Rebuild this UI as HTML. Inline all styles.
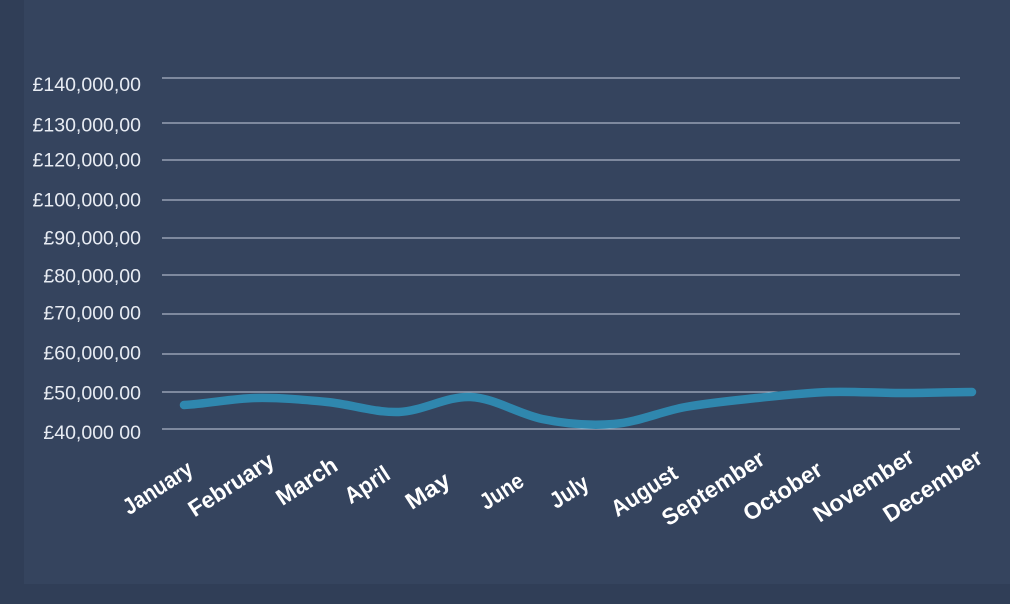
<!DOCTYPE html>
<html>
<head>
<meta charset="utf-8">
<style>
  html, body { margin: 0; padding: 0; }
  body { width: 1010px; height: 604px; background: #303e57; overflow: hidden; position: relative; }
  .panel { position: absolute; left: 24px; top: 0; width: 986px; height: 584px; background: #35445e; }
  svg { position: absolute; left: 0; top: 0; }
</style>
</head>
<body>
<div class="panel"></div>
<svg width="1010" height="604" viewBox="0 0 1010 604" xmlns="http://www.w3.org/2000/svg">
  <g stroke="#c6cedd" stroke-width="1" shape-rendering="crispEdges">
    <line x1="162" y1="78" x2="960" y2="78"/>
    <line x1="162" y1="123" x2="960" y2="123"/>
    <line x1="162" y1="160" x2="960" y2="160"/>
    <line x1="162" y1="200" x2="960" y2="200"/>
    <line x1="162" y1="238" x2="960" y2="238"/>
    <line x1="162" y1="275" x2="960" y2="275"/>
    <line x1="162" y1="314" x2="960" y2="314"/>
    <line x1="162" y1="354" x2="960" y2="354"/>
    <line x1="162" y1="392" x2="960" y2="392"/>
    <line x1="162" y1="429" x2="960" y2="429"/>
  </g>
  <g font-family="'Liberation Sans', Arial, sans-serif" font-size="19.5" fill="#e8ecf3" text-anchor="end">
    <text x="141" y="91">£140,000,00</text>
    <text x="141" y="131.5">£130,000,00</text>
    <text x="141" y="166.5">£120,000,00</text>
    <text x="141" y="206.5">£100,000,00</text>
    <text x="141" y="244.5">£90,000,00</text>
    <text x="141" y="282.5">£80,000,00</text>
    <text x="141" y="319.5">£70,000 00</text>
    <text x="141" y="359.5">£60,000,00</text>
    <text x="141" y="399.5">£50,000.00</text>
    <text x="141" y="439">£40,000 00</text>
  </g>
  <path d="M184,405
    C207.9,403.83 231.7,398.5 255.6,398
    C279.5,397.5 303.4,399.67 327.3,402
    C351.2,404.33 375,412.83 398.9,412
    C422.8,411.17 446.6,396 470.5,397
    C494.4,398 518.3,414 542.2,419
    C566.1,424 589.9,425.83 613.8,424
    C637.7,422.17 661.6,411.33 685.5,407
    C709.4,402.67 733.2,400.5 757.1,398
    C781,395.5 804.8,392.83 828.7,392
    C852.6,391.17 876.5,393 900.4,393
    C924.3,393 948.1,392.17 972,392"
    fill="none" stroke="#2f87ae" stroke-width="8.5" stroke-linecap="round" stroke-linejoin="round"/>
  <g font-family="'Liberation Sans', Arial, sans-serif" font-size="23" font-weight="bold" fill="#ffffff" text-anchor="middle" dominant-baseline="central">
    <text transform="translate(157.5,487.5) rotate(-33)" textLength="78" lengthAdjust="spacingAndGlyphs">January</text>
    <text transform="translate(231,484.5) rotate(-33)" textLength="97" lengthAdjust="spacingAndGlyphs">February</text>
    <text transform="translate(306.5,481) rotate(-33)" textLength="68" lengthAdjust="spacingAndGlyphs">March</text>
    <text transform="translate(367,484.5) rotate(-33)" textLength="49" lengthAdjust="spacingAndGlyphs">April</text>
    <text transform="translate(427.5,490.5) rotate(-33)" textLength="48" lengthAdjust="spacingAndGlyphs">May</text>
    <text transform="translate(501.5,491) rotate(-33)" textLength="47" lengthAdjust="spacingAndGlyphs">June</text>
    <text transform="translate(569,491.5) rotate(-33)" textLength="41" lengthAdjust="spacingAndGlyphs">July</text>
    <text transform="translate(644,490.5) rotate(-33)" textLength="74" lengthAdjust="spacingAndGlyphs">August</text>
    <text transform="translate(713,488) rotate(-33)" textLength="117" lengthAdjust="spacingAndGlyphs">September</text>
    <text transform="translate(782.5,491) rotate(-33)" textLength="89" lengthAdjust="spacingAndGlyphs">October</text>
    <text transform="translate(863.5,485) rotate(-33)" textLength="115" lengthAdjust="spacingAndGlyphs">November</text>
    <text transform="translate(932.5,485.5) rotate(-33)" textLength="113" lengthAdjust="spacingAndGlyphs">December</text>
  </g>
</svg>
</body>
</html>
